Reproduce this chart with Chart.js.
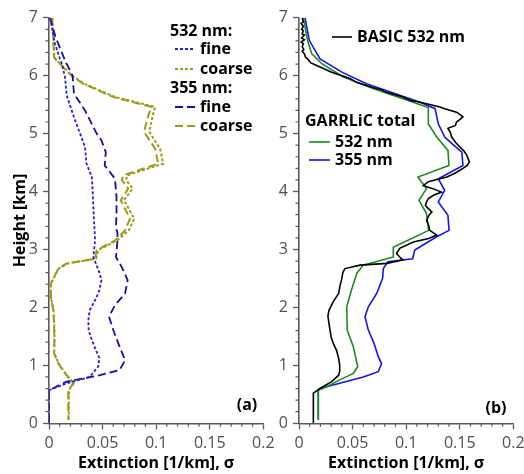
<!DOCTYPE html>
<html>
<head>
<meta charset="utf-8">
<script src="https://cdn.jsdelivr.net/npm/chart.js@4"></script>
<style>
  html, body { margin: 0; padding: 0; background: #fff; overflow: hidden; }
  #wrap { position: relative; width: 524px; height: 474px; overflow: hidden; }
  canvas { position: absolute; left: 0; top: 0; }
</style>
</head>
<body>
<div id="wrap">
  <canvas id="panelA" width="524" height="474"></canvas>
  <canvas id="panelB" width="600" height="474"></canvas>
</div>
<script>
// ---- Panel (a): GARRLiC fine / coarse extinction profiles ----
const fine532Km  = [7.0, 6.8, 6.55, 6.3, 6.2, 5.97, 5.66, 5.3, 5.0, 4.77, 4.48, 4.25, 3.9, 3.5, 3.16, 2.87, 2.6, 2.47, 2.3, 2.18, 1.95, 1.78, 1.6, 1.44, 1.25, 1.13, 0.98, 0.8, 0.69, 0.57, 0.0];
const fine532Ext = [0.001, 0.003, 0.0056, 0.010, 0.012, 0.015, 0.0165, 0.023, 0.029, 0.0336, 0.035, 0.040, 0.041, 0.042, 0.043, 0.0414, 0.047, 0.049, 0.047, 0.0445, 0.038, 0.0367, 0.037, 0.040, 0.044, 0.047, 0.046, 0.038, 0.0165, 0.0, 0.0];

const fine355Km  = [7.0, 6.67, 6.26, 6.0, 5.69, 5.4, 5.0, 4.88, 4.68, 4.45, 4.22, 3.9, 3.62, 3.38, 3.28, 3.1, 2.87, 2.7, 2.47, 2.24, 2.04, 1.84, 1.61, 1.38, 1.09, 0.92, 0.83, 0.72, 0.57, 0.0];
const fine355Ext = [0.001, 0.006, 0.015, 0.022, 0.0233, 0.0336, 0.0445, 0.049, 0.053, 0.052, 0.0616, 0.063, 0.063, 0.0625, 0.064, 0.0637, 0.0625, 0.0678, 0.0734, 0.071, 0.0616, 0.056, 0.060, 0.0647, 0.071, 0.066, 0.0476, 0.0165, 0.0, 0.0];

const coarse532Km  = [7.0, 6.32, 6.26, 6.0, 5.86, 5.63, 5.46, 5.31, 5.03, 4.74, 4.48, 4.28, 4.2, 4.05, 3.85, 3.53, 3.33, 3.16, 2.99, 2.84, 2.76, 2.67, 2.41, 2.18, 1.95, 1.72, 1.44, 1.21, 1.03, 0.86, 0.69, 0.57, 0.06];
const coarse532Ext = [0.003, 0.005, 0.0075, 0.0215, 0.033, 0.062, 0.099, 0.0968, 0.0936, 0.1036, 0.1067, 0.073, 0.072, 0.078, 0.070, 0.0796, 0.0745, 0.064, 0.046, 0.044, 0.018, 0.009, 0.0018, 0.0018, 0.0042, 0.0049, 0.0052, 0.0049, 0.009, 0.0155, 0.0232, 0.0185, 0.0185];

const coarse355Km  = [7.0, 6.32, 6.26, 6.0, 5.86, 5.63, 5.46, 5.31, 5.03, 4.74, 4.48, 4.28, 4.2, 4.05, 3.85, 3.53, 3.33, 3.16, 2.99, 2.84, 2.76, 2.67, 2.41, 2.18, 1.95, 1.72, 1.44, 1.21, 1.03, 0.86, 0.69, 0.57, 0.06];
const coarse355Ext = [0.003, 0.0047, 0.007, 0.021, 0.032, 0.060, 0.096, 0.0927, 0.0887, 0.099, 0.102, 0.0693, 0.068, 0.074, 0.067, 0.0756, 0.071, 0.062, 0.0445, 0.043, 0.0165, 0.0087, 0.0016, 0.0016, 0.004, 0.0047, 0.005, 0.0047, 0.0087, 0.015, 0.0227, 0.018, 0.018];

// ---- Panel (b): BASIC lidar vs. GARRLiC total extinction ----
const basicKm  = [7.0, 6.93, 6.9, 6.85, 6.8, 6.78, 6.72, 6.7, 6.65, 6.62, 6.58, 6.55, 6.5, 6.45, 6.42, 6.38, 6.32, 6.29, 6.22, 6.18, 6.15, 6.06, 5.95, 5.89, 5.8, 5.75, 5.72, 5.63, 5.57, 5.54, 5.46, 5.43, 5.37, 5.33, 5.29, 5.24, 5.2, 5.14, 5.09, 5.03, 4.94, 4.85, 4.77, 4.7, 4.63, 4.56, 4.51, 4.45, 4.4, 4.32, 4.25, 4.17, 4.1, 4.05, 3.99, 3.94, 3.88, 3.82, 3.76, 3.7, 3.65, 3.58, 3.5, 3.42, 3.33, 3.25, 3.19, 3.13, 3.02, 2.93, 2.87, 2.82, 2.76, 2.73, 2.67, 2.61, 2.5, 2.35, 2.24, 2.1, 1.95, 1.85, 1.72, 1.6, 1.49, 1.38, 1.26, 1.12, 1.0, 0.9, 0.83, 0.72, 0.6, 0.52, 0.5, 0.0];
const basicExt = [0.003, 0.004, 0.002, 0.004, 0.0025, 0.004, 0.003, 0.005, 0.0025, 0.005, 0.002, 0.004, 0.003, 0.0045, 0.003, 0.005, 0.006, 0.008, 0.011, 0.016, 0.0196, 0.0305, 0.0476, 0.053, 0.068, 0.078, 0.080, 0.097, 0.104, 0.113, 0.1316, 0.136, 0.147, 0.150, 0.153, 0.150, 0.147, 0.146, 0.139, 0.141, 0.1425, 0.146, 0.150, 0.154, 0.1565, 0.158, 0.159, 0.157, 0.153, 0.146, 0.138, 0.1207, 0.116, 0.125, 0.133, 0.126, 0.1207, 0.119, 0.118, 0.121, 0.124, 0.121, 0.119, 0.121, 0.122, 0.1285, 0.121, 0.1067, 0.094, 0.091, 0.094, 0.097, 0.082, 0.057, 0.043, 0.041, 0.040, 0.038, 0.037, 0.032, 0.028, 0.027, 0.028, 0.029, 0.030, 0.032, 0.035, 0.037, 0.038, 0.038, 0.037, 0.0305, 0.0196, 0.0134, 0.0134, 0.0134];

const garr532Km  = [7.0, 6.61, 6.38, 6.21, 5.98, 5.78, 5.6, 5.45, 5.17, 4.94, 4.71, 4.45, 4.25, 4.05, 3.85, 3.62, 3.33, 3.04, 2.87, 2.73, 2.59, 2.3, 2.01, 1.61, 1.32, 0.98, 0.86, 0.75, 0.63, 0.57, 0.06];
const garr532Ext = [0.004, 0.008, 0.0118, 0.021, 0.041, 0.069, 0.097, 0.1207, 0.1207, 0.1285, 0.139, 0.140, 0.111, 0.119, 0.112, 0.119, 0.121, 0.088, 0.088, 0.060, 0.054, 0.049, 0.0445, 0.045, 0.0507, 0.0548, 0.0507, 0.038, 0.026, 0.018, 0.018];

const garr355Km  = [7.0, 6.61, 6.29, 6.06, 5.86, 5.66, 5.54, 5.43, 5.17, 4.94, 4.83, 4.68, 4.45, 4.22, 4.02, 3.82, 3.59, 3.33, 3.22, 2.99, 2.84, 2.79, 2.67, 2.5, 2.24, 2.01, 1.84, 1.61, 1.38, 1.15, 1.03, 0.89, 0.8, 0.69, 0.6, 0.57, 0.06];
const garr355Ext = [0.0056, 0.0096, 0.0196, 0.040, 0.063, 0.094, 0.113, 0.127, 0.130, 0.136, 0.1425, 0.152, 0.153, 0.130, 0.136, 0.130, 0.139, 0.140, 0.1285, 0.108, 0.106, 0.083, 0.0787, 0.078, 0.0725, 0.0647, 0.0616, 0.0647, 0.070, 0.074, 0.077, 0.074, 0.060, 0.038, 0.0196, 0.018, 0.018];

// Axis ranges and tick spacing
const xRange = [0, 0.2];
const yRange = [0, 7];
const xMajorStep = 0.05, xMinorStep = 0.01;
const yMajorStep = 1, yMinorStep = 0.2;

const FONT = "'Open Sans', 'Noto Sans', sans-serif";
const AXIS_GRAY = '#5a5a5a';
const LABEL_GRAY = '#505050';

const COLORS = {
  fine532: '#2626c8',
  fine355: '#12129e',
  coarse: '#9c9c1c',
  basic: '#000000',
  garr532: '#1e8a1e',
  garr355: '#1414f0'
};

function toPoints(km, ext) {
  return km.map((h, i) => ({ x: ext[i], y: h }));
}

function profile(label, km, ext, color, dash, width) {
  return {
    label: label,
    data: toPoints(km, ext),
    showLine: true,
    borderColor: color,
    backgroundColor: color,
    borderWidth: width,
    borderDash: dash,
    pointRadius: 0,
    tension: 0,
    fill: false
  };
}

// Minor tick marks on both axes, placed through each chart's own scales
const minorTicks = {
  id: 'minorTicks',
  afterDraw(chart) {
    const { ctx, scales: { x, y } } = chart;
    ctx.save();
    ctx.strokeStyle = AXIS_GRAY;
    ctx.lineWidth = 1.2;
    ctx.beginPath();
    for (let i = 0; i <= Math.round((xRange[1] - xRange[0]) / xMinorStep); i++) {
      if (i % Math.round(xMajorStep / xMinorStep) === 0) continue;
      const px = x.getPixelForValue(xRange[0] + i * xMinorStep);
      ctx.moveTo(px, y.bottom);
      ctx.lineTo(px, y.bottom + 3.5);
    }
    for (let i = 0; i <= Math.round((yRange[1] - yRange[0]) / yMinorStep); i++) {
      if (i % Math.round(yMajorStep / yMinorStep) === 0) continue;
      const py = y.getPixelForValue(yRange[0] + i * yMinorStep);
      ctx.moveTo(x.left - 3.5, py);
      ctx.lineTo(x.left, py);
    }
    ctx.stroke();
    ctx.restore();
  }
};

// Hand-laid legend blocks and panel tags
function legendPlugin(items, tag) {
  return {
    id: 'panelLegend',
    afterDraw(chart) {
      const ctx = chart.ctx;
      ctx.save();
      ctx.font = "bold 16px " + FONT;
      ctx.textBaseline = 'middle';
      ctx.fillStyle = '#000';
      items.forEach(it => {
        if (it.color) {
          ctx.beginPath();
          ctx.strokeStyle = it.color;
          ctx.lineWidth = it.width || 1.8;
          ctx.setLineDash(it.dash || []);
          ctx.moveTo(it.x0, it.y);
          ctx.lineTo(it.x1, it.y);
          ctx.stroke();
          ctx.setLineDash([]);
        }
        ctx.fillStyle = '#000';
        ctx.textAlign = 'left';
        ctx.fillText(it.text, it.tx, it.y);
      });
      ctx.textAlign = 'center';
      ctx.fillText(tag.text, tag.x, tag.y);
      ctx.restore();
    }
  };
}

function buildOptions(padding, showYTitle) {
  return {
    responsive: false,
    animation: false,
    events: [],
    layout: { padding: padding },
    plugins: { legend: { display: false }, tooltip: { enabled: false } },
    scales: {
      x: {
        type: 'linear',
        position: 'bottom',
        min: xRange[0], max: xRange[1],
        afterBuildTicks(scale) {
          const t = [];
          for (let v = xRange[0]; v <= xRange[1] + 1e-9; v += xMajorStep) t.push({ value: +v.toFixed(2) });
          scale.ticks = t;
        },
        afterFit(scale) { scale.height = 474 - 423.3; },
        ticks: {
          color: LABEL_GRAY,
          font: { family: FONT, size: 16 },
          padding: 5,
          maxRotation: 0,
          autoSkip: false,
          callback: v => String(+v.toFixed(2))
        },
        grid: { drawOnChartArea: false, drawTicks: true, tickLength: 6, color: AXIS_GRAY, tickWidth: 1.3 },
        border: { display: true, color: AXIS_GRAY, width: 1.6 },
        title: {
          display: true,
          text: 'Extinction [1/km], σ',
          color: '#000',
          font: { family: FONT, size: 16, weight: 'bold' },
          padding: { top: 1, bottom: 1 }
        }
      },
      y: {
        type: 'linear',
        position: 'left',
        min: yRange[0], max: yRange[1],
        afterBuildTicks(scale) {
          const t = [];
          for (let v = yRange[0]; v <= yRange[1]; v += yMajorStep) t.push({ value: v });
          scale.ticks = t;
        },
        afterFit(scale) { scale.width = 49; },
        ticks: {
          color: LABEL_GRAY,
          font: { family: FONT, size: 16 },
          padding: 5,
          autoSkip: false
        },
        grid: { drawOnChartArea: false, drawTicks: true, tickLength: 6, color: AXIS_GRAY, tickWidth: 1.3 },
        border: { display: true, color: AXIS_GRAY, width: 1.6 },
        title: {
          display: showYTitle,
          text: 'Height [km]',
          color: '#000',
          font: { family: FONT, size: 16, weight: 'bold' },
          padding: { top: 11, bottom: 11 }
        }
      }
    }
  };
}

new Chart(document.getElementById('panelA'), {
  type: 'scatter',
  data: {
    datasets: [
      profile('532 nm fine', fine532Km, fine532Ext, COLORS.fine532, [3, 2], 1.8),
      profile('355 nm fine', fine355Km, fine355Ext, COLORS.fine355, [8, 4], 1.8),
      profile('532 nm coarse', coarse532Km, coarse532Ext, COLORS.coarse, [3, 2], 2),
      profile('355 nm coarse', coarse355Km, coarse355Ext, COLORS.coarse, [8, 4], 2)
    ]
  },
  options: buildOptions({ left: 0, right: 524 - 263.3, top: 17.7, bottom: 0 }, true),
  plugins: [minorTicks, legendPlugin([
    { text: '532 nm:', tx: 170, y: 31 },
    { text: 'fine', tx: 200, y: 49, color: COLORS.fine532, dash: [3, 2], x0: 175, x1: 195 },
    { text: 'coarse', tx: 200, y: 69, color: COLORS.coarse, dash: [3, 2], x0: 175, x1: 195 },
    { text: '355 nm:', tx: 170, y: 88 },
    { text: 'fine', tx: 200, y: 107, color: COLORS.fine355, dash: [8, 4], x0: 175, x1: 195 },
    { text: 'coarse', tx: 200, y: 126, color: COLORS.coarse, dash: [8, 4], x0: 175, x1: 195 }
  ], { text: '(a)', x: 247, y: 405 })]
});

new Chart(document.getElementById('panelB'), {
  type: 'scatter',
  data: {
    datasets: [
      profile('BASIC 532 nm', basicKm, basicExt, COLORS.basic, [], 1.6),
      profile('GARRLiC 532 nm', garr532Km, garr532Ext, COLORS.garr532, [], 1.6),
      profile('GARRLiC 355 nm', garr355Km, garr355Ext, COLORS.garr355, [], 1.6)
    ]
  },
  options: buildOptions({ left: 299 - 49, right: 600 - 513.3, top: 17.7, bottom: 0 }, false),
  plugins: [minorTicks, legendPlugin([
    { text: 'BASIC 532 nm', tx: 357, y: 37, color: COLORS.basic, x0: 332, x1: 352, width: 1.6 },
    { text: 'GARRLiC total', tx: 305, y: 121 },
    { text: '532 nm', tx: 335, y: 142, color: COLORS.garr532, x0: 309, x1: 330, width: 1.6 },
    { text: '355 nm', tx: 335, y: 160, color: COLORS.garr355, x0: 309, x1: 330, width: 1.6 }
  ], { text: '(b)', x: 496, y: 408 })]
});
</script>
</body>
</html>
